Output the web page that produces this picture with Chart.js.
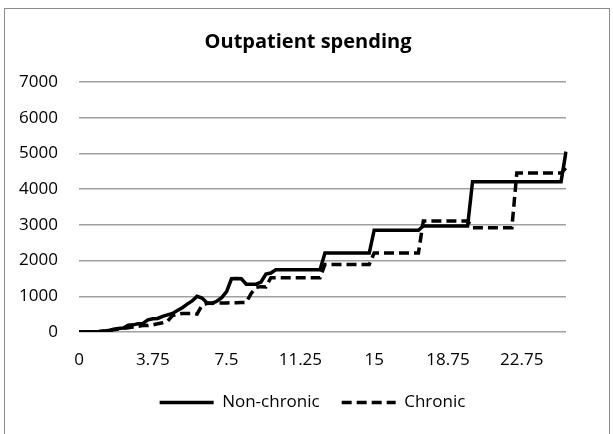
<!DOCTYPE html>
<html>
<head>
<meta charset="utf-8">
<title>Outpatient spending</title>
<script src="https://cdn.jsdelivr.net/npm/chart.js@4.4.0/dist/chart.umd.min.js"></script>
<style>
  html, body { margin: 0; padding: 0; background: #fff; }
  #wrap { position: relative; width: 613px; height: 434px; overflow: hidden; }
  #frame { position: absolute; left: 4px; top: 8px; width: 604px; height: 440px; border: 1px solid #8c8c8c; }
  #title { position: absolute; left: 0; top: 29px; width: 616px; text-align: center;
           font: bold 20px 'Open Sans', sans-serif; line-height: 24px; color: #000; }
  canvas { position: absolute; left: 0; top: 0; }
</style>
</head>
<body>
<div id="wrap">
  <div id="frame"></div>
  <canvas id="spendingChart" width="613" height="434"></canvas>
  <div id="title">Outpatient spending</div>
</div>
<script>
// x categories (one point per category)
const categories = [
  0, 0.25, 0.5, 0.75, 1, 1.25, 1.5, 1.75, 2, 2.25,
  2.5, 2.75, 3, 3.25, 3.5, 3.75, 4, 4.25, 4.5, 4.75,
  5, 5.25, 5.5, 5.75, 6, 6.25, 6.5, 6.75, 7, 7.25,
  7.5, 7.75, 8, 8.25, 8.5, 8.75, 9, 9.25, 9.5, 9.75,
  10, 10.25, 10.5, 10.75, 11, 11.25, 11.5, 11.75, 12, 12.25,
  12.5, 12.75, 13, 13.25, 13.5, 13.75, 14, 14.25, 14.5, 14.75,
  15, 15.25, 15.5, 15.75, 16, 16.25, 16.5, 16.75, 17, 17.25,
  17.5, 17.75, 18, 18.25, 18.5, 18.75, 19, 19.25, 19.5, 19.75,
  20, 20.25, 20.5, 20.75, 21, 21.25, 21.5, 21.75, 22, 22.25,
  22.75, 23, 23.25, 23.5, 23.75, 24, 24.25, 24.5, 24.75, 25
];

// category values that get a label on the x axis
const xTickLabels = [0, 3.75, 7.5, 11.25, 15, 18.75, 22.75];

const nonChronic = [
  0, 0, 5, 10, 15, 30, 40, 80, 100, 110,
  190, 200, 230, 240, 340, 370, 380, 440, 480, 520,
  600, 680, 780, 870, 1000, 950, 820, 800, 860, 960,
  1130, 1490, 1500, 1490, 1340, 1340, 1340, 1400, 1620, 1650,
  1740, 1740, 1740, 1740, 1740, 1740, 1740, 1740, 1740, 1740,
  2210, 2210, 2210, 2210, 2210, 2210, 2210, 2210, 2210, 2210,
  2850, 2850, 2850, 2850, 2850, 2850, 2850, 2850, 2850, 2850,
  2970, 2970, 2970, 2970, 2970, 2970, 2970, 2970, 2970, 2970,
  4210, 4210, 4210, 4210, 4210, 4210, 4210, 4210, 4210, 4210,
  4210, 4210, 4210, 4210, 4210, 4210, 4210, 4210, 4210, 5050
];

const chronic = [
  0, 0, 0, 5, 10, 20, 30, 60, 80, 100,
  120, 140, 160, 180, 180, 200, 230, 260, 300, 460,
  500, 520, 520, 520, 500, 750, 800, 810, 810, 815,
  815, 820, 820, 825, 830, 1080, 1250, 1270, 1260, 1520,
  1520, 1520, 1520, 1520, 1520, 1520, 1520, 1520, 1520, 1520,
  1890, 1890, 1890, 1890, 1890, 1890, 1890, 1890, 1890, 1890,
  2210, 2210, 2210, 2210, 2210, 2210, 2210, 2210, 2210, 2210,
  3110, 3110, 3110, 3110, 3110, 3110, 3110, 3110, 3110, 3110,
  2920, 2920, 2920, 2920, 2920, 2920, 2920, 2920, 2920, 4450,
  4450, 4450, 4450, 4450, 4450, 4450, 4450, 4450, 4450, 4600
];

const seriesNames = ["Non-chronic", "Chronic"];

const FONT = "'Open Sans', sans-serif";

// move the legend box so it sits under the plot like the original
const legendUnderPlot = {
  id: "legendUnderPlot",
  afterLayout: function (chart) {
    const legend = chart.legend;
    if (!legend) return;
    legend.left = chart.chartArea.left - 20;
    legend.right = chart.chartArea.right;
    legend.width = legend.right - legend.left;
  },
};

const ctx = document.getElementById("spendingChart").getContext("2d");

new Chart(ctx, {
  type: "line",
  data: {
    labels: categories,
    datasets: [
      {
        label: seriesNames[0],
        data: nonChronic,
        borderColor: "#000",
        backgroundColor: "#000",
        borderWidth: 3.5,
        pointRadius: 0,
        pointStyle: "line",
        tension: 0,
        fill: false,
      },
      {
        label: seriesNames[1],
        data: chronic,
        borderColor: "#000",
        backgroundColor: "#000",
        borderWidth: 3.5,
        borderDash: [10, 5],
        pointRadius: 0,
        pointStyle: "line",
        tension: 0,
        fill: false,
      },
    ],
  },
  options: {
    responsive: false,
    animation: false,
    devicePixelRatio: 1,
    layout: {
      padding: { left: 4, right: 47, top: 82, bottom: 13 },
    },
    scales: {
      x: {
        type: "category",
        offset: false,
        grid: { display: false, drawTicks: false },
        border: { display: false },
        ticks: {
          autoSkip: false,
          maxRotation: 0,
          padding: 18,
          color: "#000",
          font: { family: FONT, size: 17 },
          callback: function (value, index) {
            const c = categories[index];
            return xTickLabels.includes(c) ? String(c) : "";
          },
        },
        afterFit: function (scale) {
          scale.height = 40;
        },
      },
      y: {
        min: 0,
        max: 7000,
        grid: { color: "#a0a0a0", lineWidth: 1.5, drawTicks: false },
        border: { display: false },
        ticks: {
          stepSize: 1000,
          padding: 21,
          color: "#000",
          font: { family: FONT, size: 17 },
          callback: function (value) {
            return String(value);
          },
        },
        afterFit: function (scale) {
          scale.width = 75;
        },
      },
    },
    plugins: {
      title: { display: false },
      tooltip: { enabled: false },
      legend: {
        position: "bottom",
        labels: {
          usePointStyle: true,
          pointStyleWidth: 54,
          padding: 22,
          color: "#000",
          font: { family: FONT, size: 17 },
          generateLabels: function (chart) {
            const items = Chart.defaults.plugins.legend.labels.generateLabels(chart);
            items.forEach(function (item) {
              const ds = chart.data.datasets[item.datasetIndex];
              item.lineDash = ds.borderDash || [];
              item.lineWidth = ds.borderWidth;
              item.strokeStyle = ds.borderColor;
            });
            return items;
          },
        },
      },
    },
  },
  plugins: [legendUnderPlot],
});
</script>
</body>
</html>
